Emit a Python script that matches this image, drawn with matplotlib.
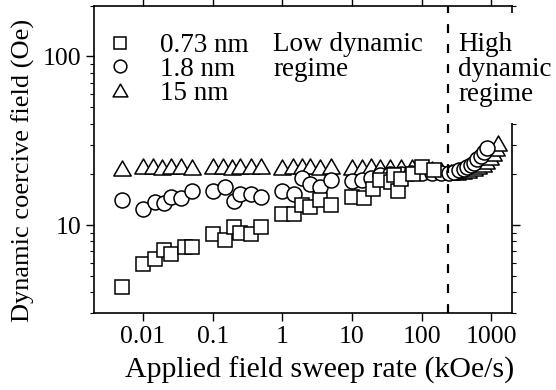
import matplotlib.pyplot as plt
from matplotlib.path import Path
from matplotlib.patches import Rectangle

plt.rcParams['font.family'] = ['Liberation Serif', 'DejaVu Serif']

# 0.73 nm film (squares)
rate_073 = [0.005, 0.01, 0.015, 0.02, 0.025, 0.04, 0.05,
            0.1, 0.15, 0.2, 0.25, 0.35, 0.5,
            1.0, 1.45, 1.9, 2.5, 3.5, 5.0,
            10, 15, 20, 25, 36, 40, 45, 50, 75, 100, 150]
hc_073 = [4.3, 5.9, 6.3, 7.1, 6.7, 7.4, 7.4,
          8.9, 8.2, 9.8, 9.0, 8.9, 9.8,
          11.7, 11.7, 13.2, 12.8, 14.1, 13.2,
          14.7, 14.4, 16.4, 18.4, 17.9, 19.7, 16.0, 18.8, 20.2, 22.2, 21.1]

# 1.8 nm film (circles)
rate_18 = [0.005, 0.01, 0.015, 0.02, 0.025, 0.035, 0.05,
           0.1, 0.15, 0.2, 0.25, 0.35, 0.5,
           1.0, 1.45, 1.9, 2.5, 3.5, 5.0,
           10, 14, 19, 25, 35, 50, 70, 100, 140, 190,
           246, 290, 342, 404, 451, 504, 563, 630, 703, 784, 877]
hc_18 = [14.0, 12.5, 13.7, 13.5, 14.7, 14.4, 16.0,
         16.0, 16.8, 13.9, 15.3, 15.3, 14.7,
         16.0, 15.2, 19.1, 17.6, 16.8, 18.4,
         18.2, 18.6, 19.1, 19.7, 20.0, 20.2, 20.3, 20.5, 20.5, 20.3,
         20.4, 20.7, 21.1, 21.6, 22.0, 22.6, 23.4, 24.5, 25.6, 27.0, 28.7]

# 15 nm film (triangles)
rate_15 = [0.005, 0.01, 0.014, 0.019, 0.025, 0.035, 0.05,
           0.1, 0.14, 0.19, 0.25, 0.35, 0.5,
           1.0, 1.4, 1.9, 2.5, 3.5, 5.0,
           10, 14, 19, 25, 35, 50, 72, 100, 140, 190,
           260, 320, 390, 470, 560, 650, 750, 850, 950, 1050, 1150, 1250]
hc_15 = [21.8, 22.3, 22.4, 22.2, 22.4, 22.3, 22.2,
         22.3, 22.4, 22.2, 22.4, 22.3, 22.4,
         22.2, 22.4, 22.5, 22.3, 22.2, 22.3,
         22.2, 22.1, 22.3, 22.2, 22.1, 22.0, 22.1, 21.9, 21.6, 21.2,
         20.6, 20.7, 20.9, 21.2, 21.7, 22.3, 23.1, 24.0, 25.3, 26.8, 28.5, 30.5]

labels = ['0.73 nm', '1.8 nm', '15 nm']
regime_boundary = 240

# equilateral open triangle
tri = Path([(0, 0.866), (-1, -0.866), (1, -0.866), (0, 0.866)], closed=True)

fig = plt.figure(figsize=(5.56, 3.90), dpi=100)
ax = fig.add_axes([0.1696, 0.1967, 0.7518, 0.7887])

ax.plot(rate_15, hc_15, ls='none', marker=tri, ms=12.5, mfc='white', mec='black', mew=1.1, label=labels[2])
ax.plot(rate_18, hc_18, ls='none', marker='o', ms=10.8, mfc='white', mec='black', mew=1.1, label=labels[1])
ax.plot(rate_073, hc_073, ls='none', marker='s', ms=9.4, mfc='white', mec='black', mew=1.1, label=labels[0])

ax.axvline(regime_boundary, color='black', lw=1.6, ls=(0, (4, 5)))

ax.set_xscale('log')
ax.set_yscale('log')
ax.set_xlim(0.002, 2000)
ax.set_ylim(3, 200)
ax.set_xticks([0.01, 0.1, 1, 10, 100, 1000])
ax.set_xticklabels(['0.01', '0.1', '1', '10', '100', '1000'])
ax.set_yticks([10, 100])
ax.set_yticklabels(['10', '100'])

ax.tick_params(which='both', direction='out', top=True, right=True, labelsize=18.5)
ax.tick_params(which='major', length=6, width=1)
ax.tick_params(which='minor', length=3, width=0.8)
for s in ax.spines.values():
    s.set_linewidth(1.2)

ax.set_xlabel('Applied field sweep rate (kOe/s)', fontsize=21.5)
ax.set_ylabel('Dynamic coercive field (Oe)', fontsize=19)
ax.xaxis.set_label_coords(0.54, -0.14)
ax.yaxis.set_label_coords(-0.142, 0.466)

h, l = ax.get_legend_handles_labels()
ax.legend(h[::-1], l[::-1], loc='upper left', bbox_to_anchor=(0.0285, 0.911),
          frameon=False, fontsize=19.5, markerscale=0.85, handlelength=1.0,
          handletextpad=1.0, labelspacing=-0.045, borderpad=0, borderaxespad=0)

ax.text(0.4275, 0.915, 'Low dynamic\nregime', transform=ax.transAxes,
        fontsize=19.5, va='top', linespacing=1.0, zorder=5)

# white box behind the right-hand label hides that part of the frame
ax.add_patch(Rectangle((0.856, 0.619), 0.25, 0.357, transform=ax.transAxes,
                       facecolor='white', edgecolor='none', clip_on=False, zorder=4))
ax.text(0.8705, 0.915, 'High\ndynamic\nregime', transform=ax.transAxes,
        fontsize=19.5, va='top', linespacing=1.0, zorder=5)

fig.savefig('out.png', dpi=100)
